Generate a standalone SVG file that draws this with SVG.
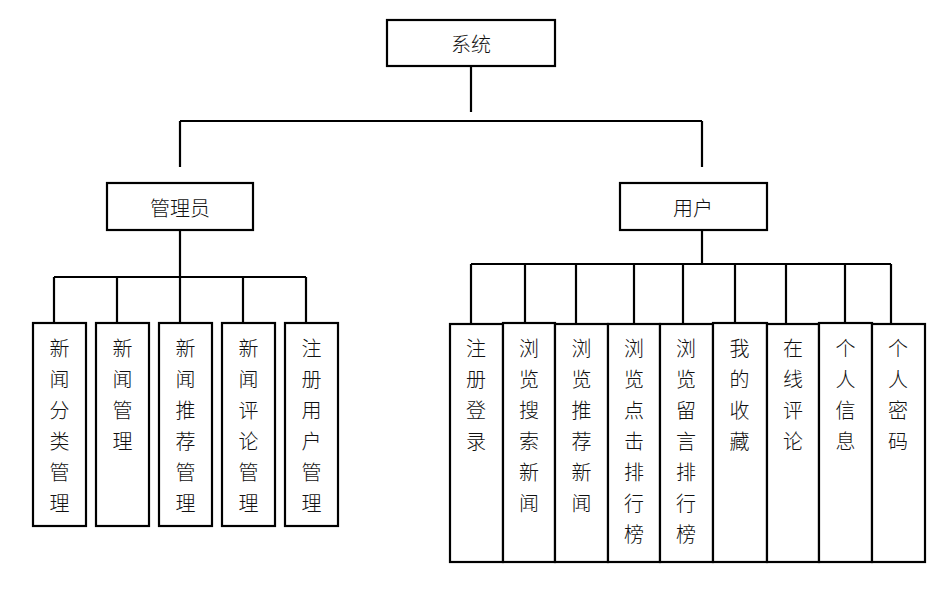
<svg xmlns="http://www.w3.org/2000/svg" width="952" height="605" viewBox="0 0 952 605">
<style>
.box{fill:#fff;stroke:#000;stroke-width:2.2}
.ln{fill:none;stroke:#000;stroke-width:2.2}
text{font-family:"Noto Sans CJK SC","Noto Sans",sans-serif;font-size:20px;font-weight:300;fill:#111;text-anchor:middle;dominant-baseline:central}
</style>
<rect width="952" height="605" fill="#fff"/>
<g id="connectors">
<path class="ln" d="M471 66V112M180 121H702M180 121V167M702 121V167"/>
<path class="ln" d="M180 230V277M54 277H306M54 277V323M117 277V323M180 277V323M243 277V323M306 277V323"/>
<path class="ln" d="M702 230V264M471 264H891M471 264V323M525 264V323M576 264V323M634 264V323M683 264V323M735 264V323M786 264V323M845 264V323M891 264V323"/>
</g>
<g id="n-system"><rect class="box" x="387" y="20" width="168" height="46"/><text x="471" y="43">系统</text></g>
<g id="n-admin"><rect class="box" x="107" y="183" width="146" height="47"/><text x="180" y="207">管理员</text></g>
<g id="n-user"><rect class="box" x="620" y="183" width="147" height="47"/><text x="693" y="207">用户</text></g>

<g id="a1"><rect class="box" x="33" y="323" width="53" height="203"/><text x="59.5" y="347">新</text><text x="59.5" y="378">闻</text><text x="59.5" y="409">分</text><text x="59.5" y="440">类</text><text x="59.5" y="471">管</text><text x="59.5" y="502">理</text></g>
<g id="a2"><rect class="box" x="96" y="323" width="53" height="203"/><text x="122.5" y="347">新</text><text x="122.5" y="378">闻</text><text x="122.5" y="409">管</text><text x="122.5" y="440">理</text></g>
<g id="a3"><rect class="box" x="159" y="323" width="53" height="203"/><text x="185.5" y="347">新</text><text x="185.5" y="378">闻</text><text x="185.5" y="409">推</text><text x="185.5" y="440">荐</text><text x="185.5" y="471">管</text><text x="185.5" y="502">理</text></g>
<g id="a4"><rect class="box" x="222" y="323" width="53" height="203"/><text x="248.5" y="347">新</text><text x="248.5" y="378">闻</text><text x="248.5" y="409">评</text><text x="248.5" y="440">论</text><text x="248.5" y="471">管</text><text x="248.5" y="502">理</text></g>
<g id="a5"><rect class="box" x="285" y="323" width="53" height="203"/><text x="311.5" y="347">注</text><text x="311.5" y="378">册</text><text x="311.5" y="409">用</text><text x="311.5" y="440">户</text><text x="311.5" y="471">管</text><text x="311.5" y="502">理</text></g>

<g id="u1"><rect class="box" x="450" y="324" width="53" height="238"/><text x="476" y="347">注</text><text x="476" y="378">册</text><text x="476" y="409">登</text><text x="476" y="440">录</text></g>
<g id="u2"><rect class="box" x="503" y="323" width="52" height="239"/><text x="529" y="347">浏</text><text x="529" y="378">览</text><text x="529" y="409">搜</text><text x="529" y="440">索</text><text x="529" y="471">新</text><text x="529" y="502">闻</text></g>
<g id="u3"><rect class="box" x="555" y="324" width="53" height="238"/><text x="581.5" y="347">浏</text><text x="581.5" y="378">览</text><text x="581.5" y="409">推</text><text x="581.5" y="440">荐</text><text x="581.5" y="471">新</text><text x="581.5" y="502">闻</text></g>
<g id="u4"><rect class="box" x="608" y="324" width="52" height="238"/><text x="634" y="347">浏</text><text x="634" y="378">览</text><text x="634" y="409">点</text><text x="634" y="440">击</text><text x="634" y="471">排</text><text x="634" y="502">行</text><text x="634" y="533">榜</text></g>
<g id="u5"><rect class="box" x="660" y="324" width="53" height="238"/><text x="686" y="347">浏</text><text x="686" y="378">览</text><text x="686" y="409">留</text><text x="686" y="440">言</text><text x="686" y="471">排</text><text x="686" y="502">行</text><text x="686" y="533">榜</text></g>
<g id="u6"><rect class="box" x="713" y="323" width="54" height="239"/><text x="739.5" y="347">我</text><text x="739.5" y="378">的</text><text x="739.5" y="409">收</text><text x="739.5" y="440">藏</text></g>
<g id="u7"><rect class="box" x="767" y="324" width="52" height="238"/><text x="793" y="347">在</text><text x="793" y="378">线</text><text x="793" y="409">评</text><text x="793" y="440">论</text></g>
<g id="u8"><rect class="box" x="819" y="323" width="53" height="239"/><text x="845.5" y="347">个</text><text x="845.5" y="378">人</text><text x="845.5" y="409">信</text><text x="845.5" y="440">息</text></g>
<g id="u9"><rect class="box" x="872" y="324" width="53" height="238"/><text x="898" y="347">个</text><text x="898" y="378">人</text><text x="898" y="409">密</text><text x="898" y="440">码</text></g>
</svg>
